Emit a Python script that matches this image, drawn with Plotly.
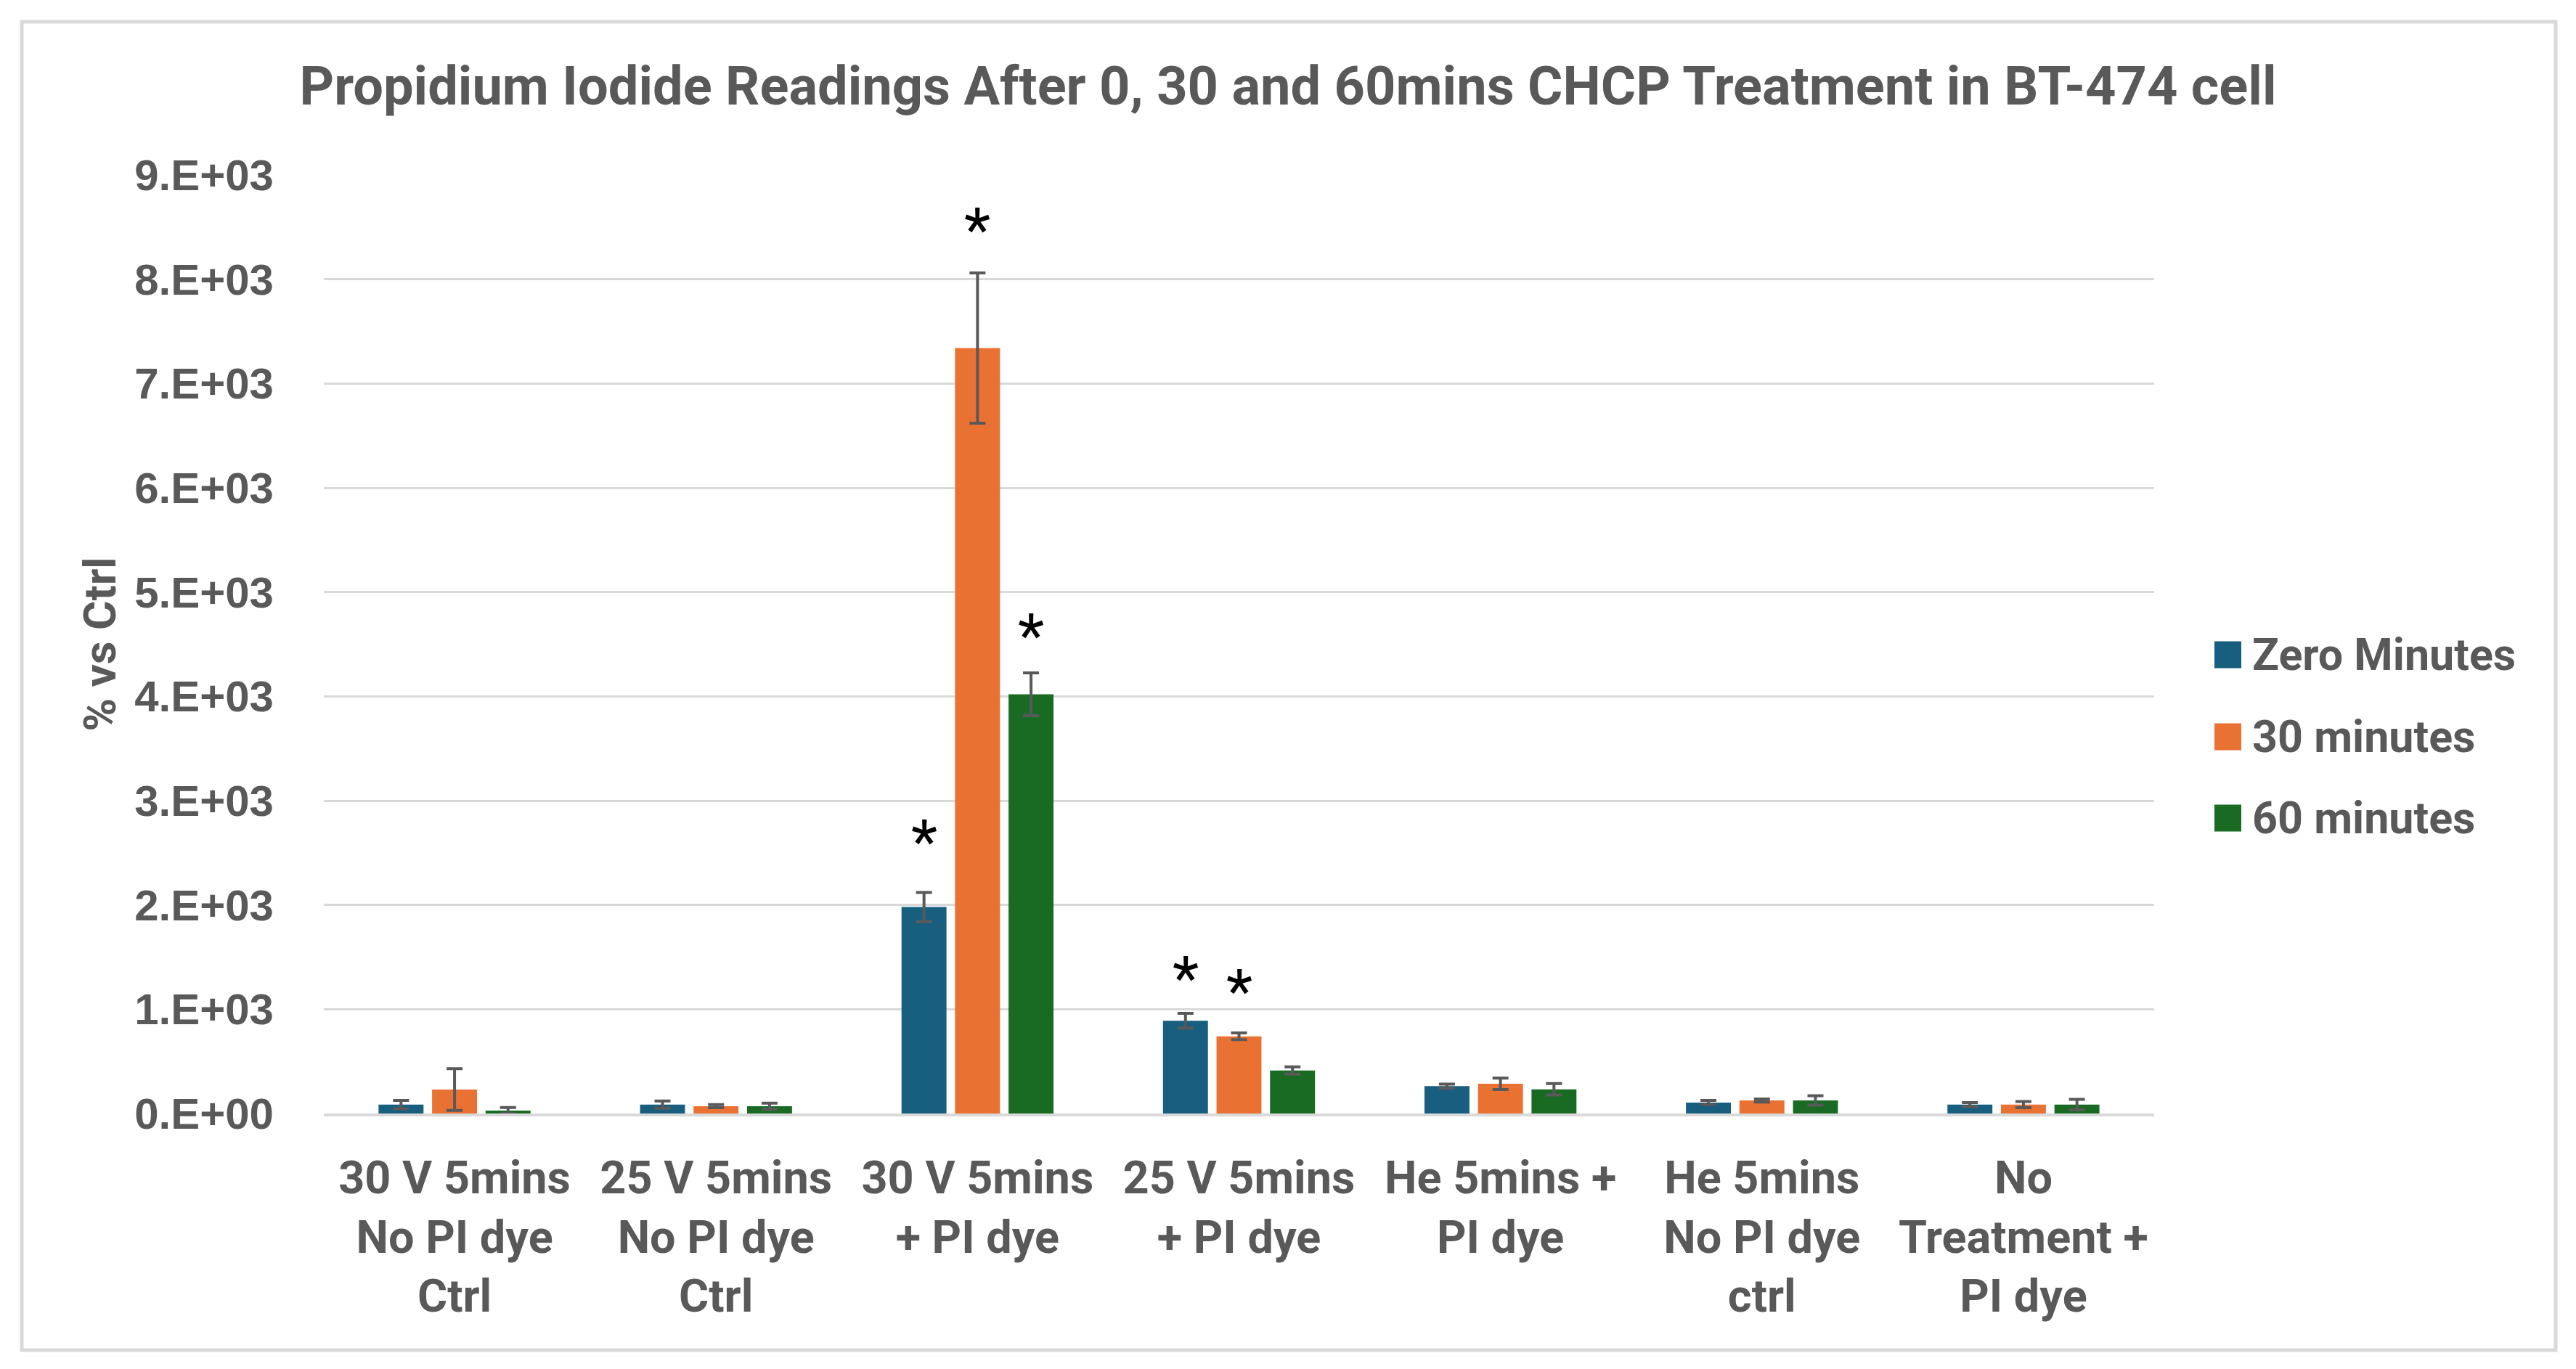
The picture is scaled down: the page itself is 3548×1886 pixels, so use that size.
import plotly.graph_objects as go

# ---------------- data ----------------
categories = [
    "30 V 5mins<br>No PI dye<br>Ctrl",
    "25 V 5mins<br>No PI dye<br>Ctrl",
    "30 V 5mins<br>+ PI dye",
    "25 V 5mins<br>+ PI dye",
    "He 5mins +<br>PI dye",
    "He 5mins<br>No PI dye<br>ctrl",
    "No<br>Treatment +<br>PI dye",
]
series_names = ["Zero Minutes", "30 minutes", "60 minutes"]
zero_min = [85, 85, 1980, 890, 262, 105, 85]
zero_err = [40, 35, 140, 70, 20, 20, 20]
thirty_min = [230, 70, 7340, 740, 285, 125, 85]
thirty_err = [200, 15, 720, 32, 55, 15, 30]
sixty_min = [28, 70, 4020, 412, 232, 125, 85]
sixty_err = [30, 30, 205, 35, 55, 45, 50]
series_colors = ["#175E7F", "#E97132", "#196B24"]

# significance stars: (series index, category index, y value of star)
star_series = [0, 1, 2, 0, 1]
star_category = [2, 2, 2, 3, 3]
star_y = [2690, 8560, 4666, 1384, 1259]

y_tickvals = [0, 1000, 2000, 3000, 4000, 5000, 6000, 7000, 8000, 9000]
y_ticktext = ["0.E+00", "1.E+03", "2.E+03", "3.E+03", "4.E+03", "5.E+03",
              "6.E+03", "7.E+03", "8.E+03", "9.E+03"]

title_text = "Propidium Iodide Readings After 0, 30 and 60mins CHCP Treatment in BT-474 cell"
y_title = "% vs Ctrl"

# ---------------- layout constants ----------------
OFF = 8  # page body margin
W, H = 3548 - 2 * OFF, 1886 - 2 * OFF
ML, MT = 446 - OFF, 241 - OFF
PW, PH = 2521, 1293
MR = W - ML - PW
MB = H - MT - PH
BARGAP = 0.386
GRAY = "#595959"
FONT = "Roboto"


def px_x(px):
    return (px - OFF - ML) / PW


def px_y(py):
    return (MT + PH - (py - OFF)) / PH


values = [zero_min, thirty_min, sixty_min]
errors = [zero_err, thirty_err, sixty_err]

fig = go.Figure()
for name, vals, errs, col in zip(series_names, values, errors, series_colors):
    fig.add_trace(go.Bar(
        x=categories, y=vals, name=name,
        marker=dict(color=col, line=dict(width=0)),
        error_y=dict(type="data", array=errs, visible=True,
                     color=GRAY, thickness=4, width=11),
        showlegend=False,
    ))

# stars
slot = (1 - BARGAP) / 3
annotations = []
for s, c, yv in zip(star_series, star_category, star_y):
    annotations.append(dict(
        x=c + (s - 1) * slot, y=yv, xref="x", yref="y",
        text="*", showarrow=False, yanchor="middle", xanchor="center",
        yshift=-12,
        font=dict(family=FONT, size=84, color="black"),
    ))

# manual legend
legend_x_sw = 3050
legend_sw = 37
legend_rows = [902, 1015, 1127]
shapes = []
for name, col, ry in zip(series_names, series_colors, legend_rows):
    shapes.append(dict(
        type="rect", xref="paper", yref="paper",
        x0=px_x(legend_x_sw), x1=px_x(legend_x_sw + legend_sw),
        y0=px_y(ry + legend_sw / 2), y1=px_y(ry - legend_sw / 2),
        fillcolor=col, line=dict(width=0),
    ))
    annotations.append(dict(
        x=px_x(3100), y=px_y(ry), xref="paper", yref="paper",
        text=name, showarrow=False, xanchor="left", yanchor="middle",
        font=dict(family=FONT, size=61, color=GRAY, weight="bold"),
    ))

# chart border
shapes.append(dict(
    type="rect", xref="paper", yref="paper", layer="below",
    x0=px_x(30), x1=px_x(3520), y0=px_y(1860), y1=px_y(30),
    line=dict(color="#D9D9D9", width=5), fillcolor="rgba(0,0,0,0)",
))

fig.update_layout(
    width=W, height=H,
    margin=dict(l=ML, r=MR, t=MT, b=MB, pad=0),
    paper_bgcolor="white", plot_bgcolor="white",
    barmode="group", bargap=BARGAP, bargroupgap=0.16,
    title=dict(text=title_text, x=(1774 - OFF) / W, xanchor="center", xref="container",
               y=1 - (118 - OFF) / H, yanchor="middle", yref="container",
               font=dict(family=FONT, size=74, color=GRAY, weight="bold")),
    font=dict(family=FONT, color=GRAY),
    xaxis=dict(
        type="category", showgrid=False, showline=True,
        linecolor="#D9D9D9", linewidth=4, ticks="",
        tickfont=dict(family=FONT, size=63, color=GRAY, weight="bold"),
        ticklabelstandoff=30,
    ),
    yaxis=dict(
        range=[0, 9000], tickvals=y_tickvals, ticktext=y_ticktext,
        showgrid=True, gridcolor="#D9D9D9", gridwidth=3,
        zeroline=False, showline=False, ticks="",
        tickfont=dict(family="Liberation Sans", size=60, color=GRAY, weight="bold"),
        ticklabelstandoff=68,
        title=dict(text=y_title, standoff=5,
                   font=dict(family=FONT, size=62, color=GRAY, weight="bold")),
    ),
    annotations=annotations,
    shapes=shapes,
)

fig.write_html("out.html")
